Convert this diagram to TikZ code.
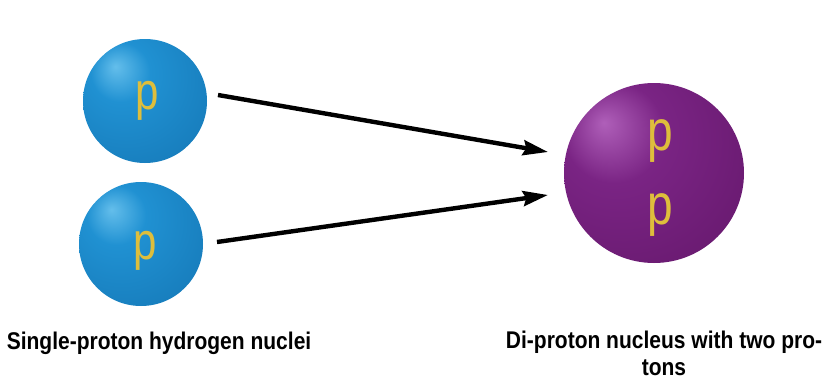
\documentclass[tikz,border=0pt]{standalone}
\usepackage{fontspec}
\setmainfont{Liberation Sans}
\usetikzlibrary{arrows.meta,shadings}
\definecolor{pgold}{RGB}{222,190,60}
% sphere shadings: soft highlight up left, darker rim
\pgfdeclareradialshading{blueball}{\pgfpoint{-12bp}{14bp}}{%
  color(0bp)=(rgb,255:red,100;green,190;blue,235);
  color(12bp)=(rgb,255:red,32;green,145;blue,210);
  color(40bp)=(rgb,255:red,22;green,122;blue,185);
  color(58bp)=(rgb,255:red,10;green,70;blue,120);
  color(70bp)=(rgb,255:red,5;green,45;blue,80)}
\pgfdeclareradialshading{purpleball}{\pgfpoint{-14bp}{14bp}}{%
  color(0bp)=(rgb,255:red,175;green,95;blue,185);
  color(14bp)=(rgb,255:red,122;green,36;blue,132);
  color(38bp)=(rgb,255:red,105;green,26;blue,112);
  color(56bp)=(rgb,255:red,60;green,12;blue,66);
  color(70bp)=(rgb,255:red,30;green,4;blue,35)}
\tikzset{
  proton/.style={circle, minimum size=124pt, inner sep=0pt, shading=blueball},
  diproton/.style={circle, minimum size=180pt, inner sep=0pt, shading=purpleball},
  plabel/.style={text=pgold, font=\fontsize{42}{42}\selectfont, yscale=1.25, inner sep=0pt, anchor=base},
  bigplabel/.style={plabel, font=\fontsize{46}{46}\selectfont},
  flow/.style={line width=4.4pt, -{Stealth[length=25pt,width=15pt,inset=3pt]}},
  caption/.style={font=\bfseries\fontsize{21}{23}\selectfont, yscale=1.15, inner sep=0pt, align=center}
}
\begin{document}
\begin{tikzpicture}[x=1pt,y=-1pt]
\useasboundingbox (0,0) rectangle (831,381);
% single protons
\node[proton] (pa) at (145,101) {};
\node[proton] (pb) at (141,244) {};
\node[plabel] (la) at (147,109) {p};
\node[plabel] (lb) at (145,259) {p};
% di-proton
\node[diproton] (dp) at (654,173) {};
\node[bigplabel] (dpa) at (660,150) {p};
\node[bigplabel] (dpb) at (660,224) {p};
% arrow ends
\coordinate (a1) at (218,95);
\coordinate (a2) at (548,152);
\coordinate (b1) at (217,242);
\coordinate (b2) at (548,195);
\draw[flow] (a1) -- (a2);
\draw[flow] (b1) -- (b2);
% captions
\node[caption, anchor=base] (c1) at (159,349) {Single-proton hydrogen nuclei};
\node[caption, anchor=north] (c2) at (664,331) {Di-proton nucleus with two pro-\\tons};
\end{tikzpicture}
\end{document}
